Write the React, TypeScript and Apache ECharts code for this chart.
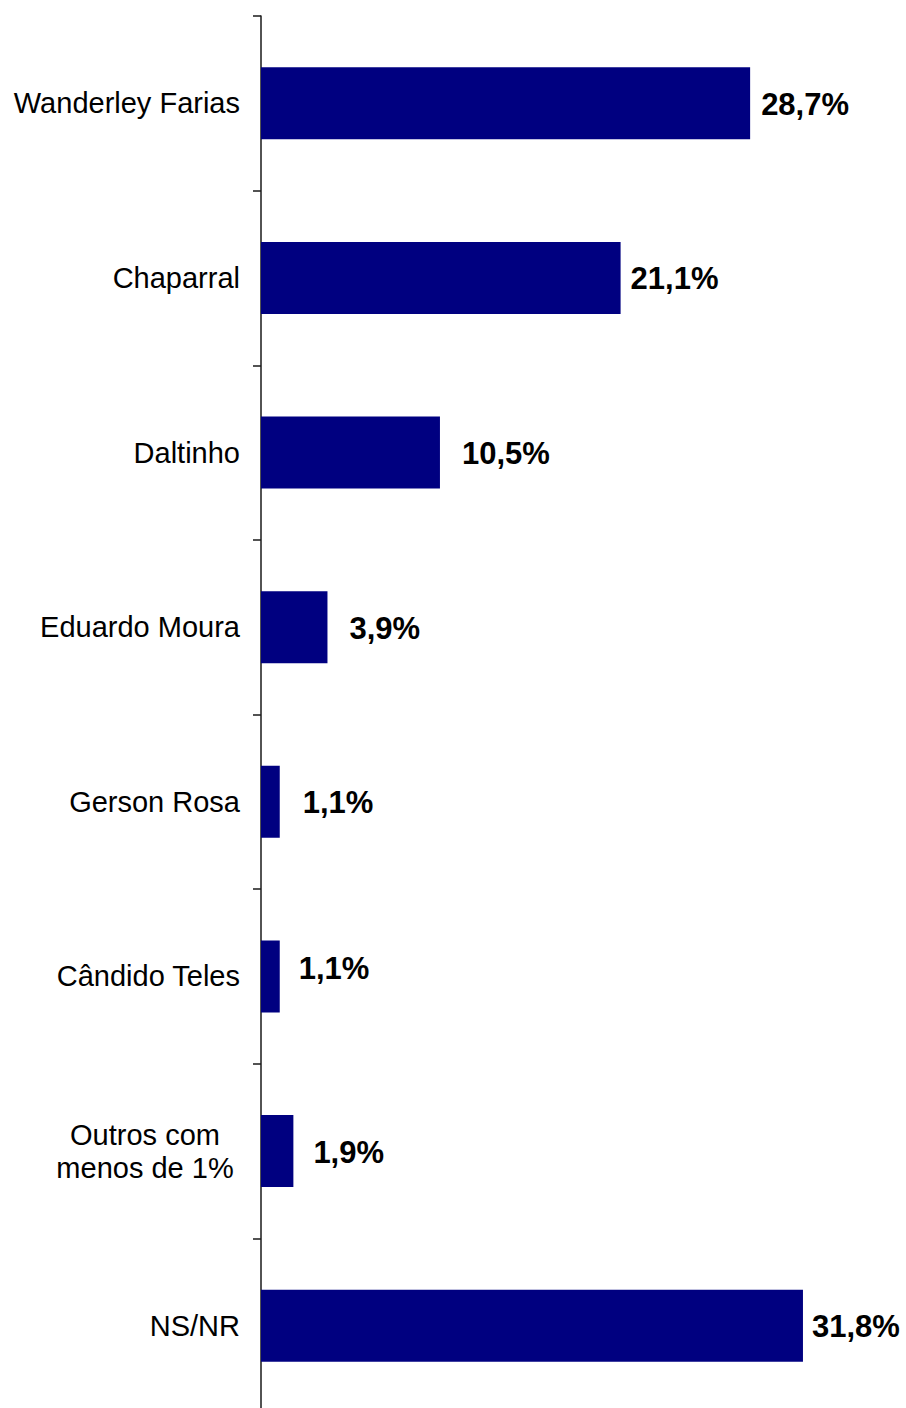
import React, { useEffect, useRef } from "react";
import * as echarts from "echarts";

const categories = [
  "Wanderley Farias",
  "Chaparral",
  "Daltinho",
  "Eduardo Moura",
  "Gerson Rosa",
  "Cândido Teles",
  "Outros com\nmenos de 1%",
  "NS/NR",
];
const values = [28.7, 21.1, 10.5, 3.9, 1.1, 1.1, 1.9, 31.8];
const valueLabels = ["28,7%", "21,1%", "10,5%", "3,9%", "1,1%", "1,1%", "1,9%", "31,8%"];

// label nudges (styling only), [dx, dy] per bar
const labelNudges: [number, number][] = [
  [11, 1],
  [10, 1],
  [22, 1],
  [22, 1],
  [23, 1],
  [19, -8],
  [20, 1],
  [9, 1],
];

const FONT = "'Liberation Sans', Arial, sans-serif";

export default function App() {
  const ref = useRef<HTMLDivElement>(null);
  useEffect(() => {
    document.body.style.margin = "0";
    document.body.style.overflow = "hidden";
    if (!ref.current) return;
    const chart = echarts.init(ref.current, undefined, { renderer: "svg" });
    chart.setOption({
      animation: false,
      backgroundColor: "#ffffff",
      grid: { left: 261, width: 596.5, top: 16, bottom: 0, containLabel: false },
      xAxis: { type: "value", min: 0, max: 35, show: false },
      yAxis: {
        type: "category",
        inverse: true,
        data: categories,
        axisLine: { show: true, lineStyle: { color: "#1a1a1a", width: 1.5 } },
        axisTick: { show: true, length: 8, alignWithLabel: false, lineStyle: { color: "#1a1a1a", width: 1.5 } },
        splitLine: { show: false },
        axisLabel: {
          margin: 21,
          fontSize: 29,
          fontFamily: FONT,
          color: "#000",
          formatter: (v: string) =>
            v.includes("\n") ? v.split("\n").map((l) => `{c|${l}}`).join("\n") : v,
          rich: {
            c: { width: 190, align: "center", fontSize: 29, lineHeight: 33, fontFamily: FONT, color: "#000" },
          },
        },
      },
      series: [
        {
          type: "bar",
          barWidth: 72,
          itemStyle: { color: "#000080" },
          data: values.map((v, i) => ({
            value: v,
            label: {
              show: true,
              position: "right",
              distance: 0,
              offset: labelNudges[i],
              formatter: valueLabels[i],
              fontSize: 31,
              fontWeight: "bold",
              fontFamily: FONT,
              color: "#000",
            },
          })),
        },
      ],
    });
    return () => chart.dispose();
  }, []);
  return <div ref={ref} style={{ width: 906, height: 1413 }} />;
}
